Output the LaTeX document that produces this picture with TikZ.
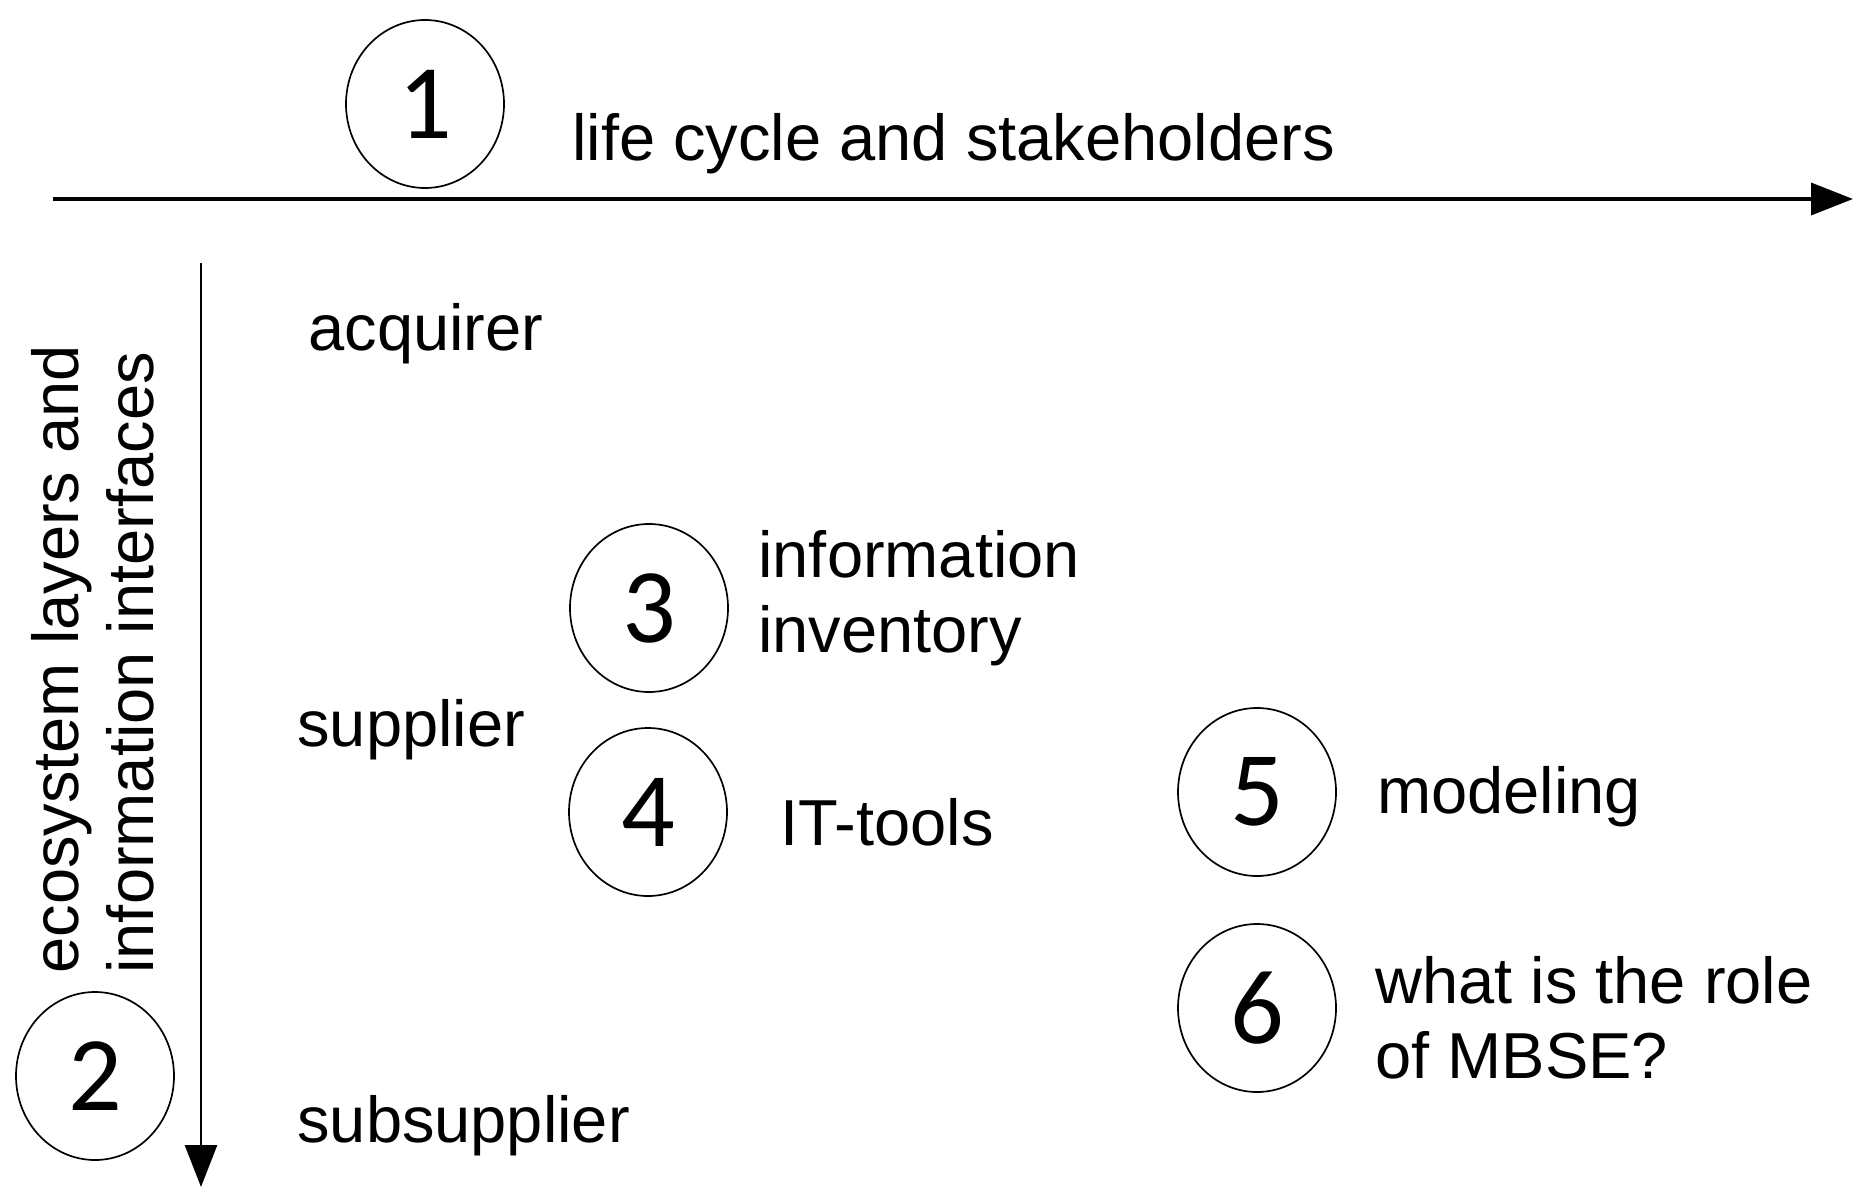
\documentclass[tikz,border=0pt]{standalone}
\usepackage{fontspec}
\setmainfont{Liberation Sans}
\newfontfamily\digitfont{Carlito}
\usetikzlibrary{shapes,arrows.meta,positioning}

\begin{document}
\begin{tikzpicture}[
					x = 0.5pt, y = -0.5pt,
					num/.style = {draw, ellipse, line width = 0.85pt, minimum width = 79pt, minimum height = 84pt, inner sep = 0pt, font = \digitfont\fontsize{53}{53}\selectfont},
					txt/.style = {anchor = west, align = left, inner sep = 0pt, font = \fontsize{32.5}{37.5}\selectfont},
					axis/.style = {-{Triangle[length = 21pt, width = 16pt]}}
					]

					\useasboundingbox (0,0) rectangle (1858,1188);

					% axes
					\coordinate (h0) at (53,199);
					\coordinate (h1) at (1853,199);
					\coordinate (v0) at (201,263);
					\coordinate (v1) at (201,1187);
					\draw[axis, line width = 1.8pt] (h0) -- (h1);
					\draw[axis, line width = 1.4pt] (v0) -- (v1);

					% numbered topics
					\node[num] (n1) at (425,104) {1};
					\node[txt] (lifecycle) at (572,144) {life cycle and stakeholders};

					\node[num] (n2) at (95,1076) {2};
					\node[txt, rotate = 90] (layers) at (93,974) {ecosystem layers and\\information interfaces};

					\node[txt] (acquirer) at (308,334) {acquirer};
					\node[txt] (supplier) at (297,730) {supplier};
					\node[txt] (subsupplier) at (297,1126) {subsupplier};

					\node[num] (n3) at (649,608) {3};
					\node[txt] (inventory) at (758,598) {information\\inventory};

					\node[num] (n4) at (648,812) {4};
					\node[txt] (ittools) at (780,822) {IT-tools};

					\node[num] (n5) at (1257,792) {5};
					\node[txt] (modeling) at (1377,797) {modeling};

					\node[num] (n6) at (1257,1008) {6};
					\node[txt] (mbse) at (1375,1018) {what is the role\\of MBSE?};

				\end{tikzpicture}
\end{document}
